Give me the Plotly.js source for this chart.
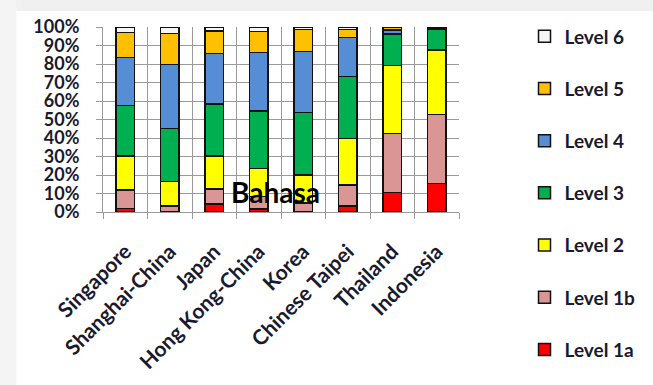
<!DOCTYPE html>
<html>
<head>
<meta charset="utf-8">
<script src="https://cdn.plot.ly/plotly-3.0.1.min.js"></script>
<style>html,body{margin:0;padding:0;background:#fff;}#chart{width:653px;height:385px;}</style>
</head>
<body>
<div id="chart"></div>
<script>
const categories = ['Singapore','Shanghai-China','Japan','Hong Kong-China','Korea','Chinese Taipei','Thailand','Indonesia'];
const level1a = [2.0, 0, 4.2, 1.5, 0, 3.2, 10.6, 15.5];
const level1b = [9.9, 3.2, 8.2, 6.8, 5.0, 11.4, 31.9, 37.3];
const level2  = [18.5, 13.2, 18.0, 15.3, 15.0, 25.2, 36.6, 34.8];
const level3  = [27.3, 28.8, 28.0, 31.0, 33.7, 33.5, 17.1, 11.4];
const level4  = [25.9, 34.6, 27.4, 31.7, 33.0, 21.0, 2.2, 0.8];
const level5  = [13.5, 16.8, 12.0, 11.2, 12.0, 4.4, 1.3, 0.2];
const level6  = [2.9, 3.4, 2.2, 2.5, 1.3, 1.3, 0.3, 0];
const seriesNames = ['Level 1a','Level 1b','Level 2','Level 3','Level 4','Level 5','Level 6'];
const seriesValues = [level1a, level1b, level2, level3, level4, level5, level6];
const seriesColors = ['#ff0000','#d99694','#ffff00','#00b050','#558ed5','#ffc000','#f5f5f5'];
const annotationText = 'Bahasa';

const FONT = 'Lato, "Liberation Sans", sans-serif';
const TXT = '#1a1a2e';

const traces = seriesNames.map((n, i) => ({
  type: 'bar', name: n, x: categories, y: seriesValues[i],
  legendgroup: 'g' + i,
  legendrank: 100 - i,
  marker: {color: seriesColors[i], line: {color: '#111', width: 1.5}},
  hoverinfo: 'x+y+name'
}));

const layout = {
  width: 653, height: 385,
  margin: {l: 103, r: 180, t: 27, b: 173, pad: 0},
  paper_bgcolor: '#ffffff', plot_bgcolor: '#ffffff',
  barmode: 'stack', bargap: 0.59,
  font: {family: FONT, color: TXT},
  xaxis: {
    type: 'category', tickson: 'boundaries', ticks: 'outside', ticklen: 6, tickcolor: '#999',
    showgrid: true, gridcolor: '#9a9a9a', gridwidth: 1,
    showline: true, linecolor: '#9a9a9a', linewidth: 1, mirror: false,
    tickangle: -45, ticklabelstandoff: 18,
    tickfont: {family: FONT, size: 21, color: TXT, weight: 'bold'}
  },
  yaxis: {
    range: [0, 100], dtick: 10, ticksuffix: '%', ticks: 'outside', ticklen: 6, tickcolor: '#999',
    showgrid: true, gridcolor: '#9a9a9a', gridwidth: 1,
    showline: true, linecolor: '#9a9a9a', linewidth: 1, zeroline: false,
    ticklabelstandoff: 13,
    tickfont: {family: FONT, size: 18, color: TXT, weight: 'bold'}
  },
  legend: {
    x: 1.184, y: 1.052, xanchor: 'left', yanchor: 'top',
    traceorder: 'grouped', tracegroupgap: 24.5, maxheight: 380,
    font: {family: FONT, size: 19, color: TXT, weight: 'bold'},
    bgcolor: 'rgba(0,0,0,0)'
  },
  annotations: [{
    text: annotationText, xref: 'paper', yref: 'paper', x: 0.485, y: 0.11,
    xanchor: 'center', yanchor: 'middle', showarrow: false,
    font: {family: FONT, size: 28, color: '#000', weight: 'bold'}
  }],
  shapes: [
    {type: 'rect', xref: 'paper', yref: 'paper', x0: -0.3, x1: 1.6, y0: 1.0865, y1: 1.2, fillcolor: '#f0f0f0', line: {width: 0}, layer: 'below'},
    {type: 'rect', xref: 'paper', yref: 'paper', x0: -0.3, x1: -0.2432, y0: -1.2, y1: 1.2, fillcolor: '#f4f4f4', line: {width: 0}, layer: 'below'}
  ]
};

Plotly.newPlot('chart', traces, layout, {displayModeBar: false, staticPlot: true});
</script>
</body>
</html>
